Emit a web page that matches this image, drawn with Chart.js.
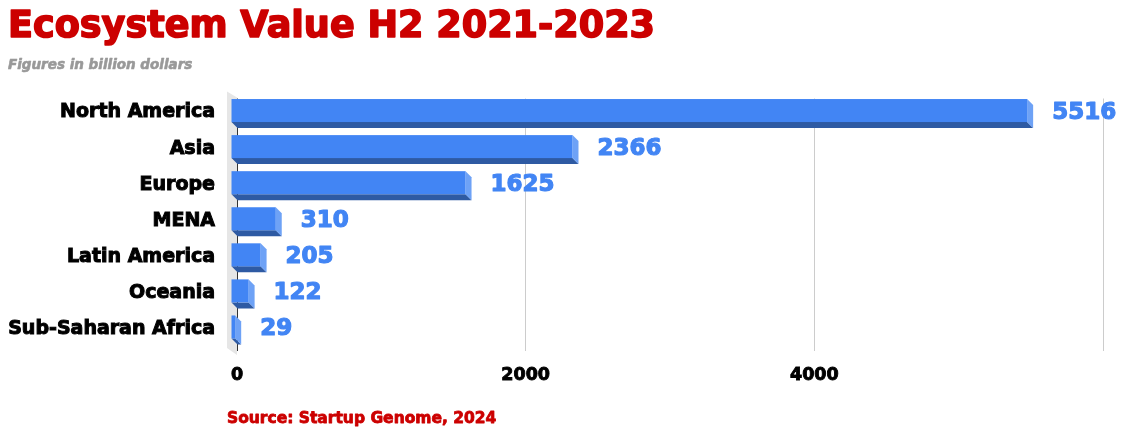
<!DOCTYPE html>
<html>
<head>
<meta charset="utf-8">
<script src="https://cdn.jsdelivr.net/npm/chart.js@4.4.1/dist/chart.umd.min.js"></script>
<style>
  html, body { margin: 0; padding: 0; background: #fff; }
  #wrap { width: 1127px; height: 434px; position: relative; }
</style>
</head>
<body>
<div id="wrap"><canvas id="chart"></canvas></div>
<script>
const regions = ['North America', 'Asia', 'Europe', 'MENA', 'Latin America', 'Oceania', 'Sub-Saharan Africa'];
const values = [5516, 2366, 1625, 310, 205, 122, 29];
const xMax = 6000;
const xStep = 2000;
const shownTicks = [0, 2000, 4000];

const titleText = 'Ecosystem Value H2 2021-2023';
const subtitleText = 'Figures in billion dollars';
const sourceText = 'Source: Startup Genome, 2024';

const DEPTH = 6;
const heavy = '"DejaVu Sans", sans-serif';

// fill + thin stroke so the text looks heavier
function heavyText(ctx, text, x, y, font, color, stroke) {
    ctx.font = font;
    ctx.fillStyle = color;
    ctx.strokeStyle = color;
    ctx.lineWidth = stroke;
    ctx.lineJoin = 'round';
    ctx.fillText(text, x, y);
    ctx.strokeText(text, x, y);
}

// pseudo 3D: draws a box for every bar using the element's position
const bars3d = {
    id: 'bars3d',
    beforeDraw(chart) {
        const a = chart.chartArea;
        const ctx = chart.ctx;
        ctx.save();
        // light grey side wall at the base
        ctx.fillStyle = '#e6e6e6';
        ctx.beginPath();
        ctx.moveTo(a.left - 10, a.top - 7);
        ctx.lineTo(a.left, a.top - 1);
        ctx.lineTo(a.left, a.bottom + 4);
        ctx.lineTo(a.left - 10, a.bottom - 3);
        ctx.closePath();
        ctx.fill();
        // title and subtitle
        ctx.textAlign = 'left';
        ctx.textBaseline = 'alphabetic';
        heavyText(ctx, titleText, 8, 37, 'bold 36.6px ' + heavy, '#cc0000', 1.6);
        heavyText(ctx, subtitleText, 8, 69, 'italic bold 13.5px ' + heavy, '#999999', 0.6);
        ctx.restore();
    },
    afterDatasetsDraw(chart) {
        const ctx = chart.ctx;
        const meta = chart.getDatasetMeta(0);
        ctx.save();
        meta.data.forEach((bar, i) => {
            const p = bar.getProps(['x', 'y', 'base', 'height'], true);
            const top = p.y - p.height / 2;
            const bottom = p.y + p.height / 2;
            const x0 = p.base, x1 = p.x, d = DEPTH;
            // bottom face
            ctx.fillStyle = '#2e5aa3';
            ctx.beginPath();
            ctx.moveTo(x0 - d, bottom - d);
            ctx.lineTo(x1 - d, bottom - d);
            ctx.lineTo(x1, bottom);
            ctx.lineTo(x0, bottom);
            ctx.closePath();
            ctx.fill();
            // right face
            ctx.fillStyle = '#6ea2f6';
            ctx.beginPath();
            ctx.moveTo(x1 - d, top - d);
            ctx.lineTo(x1, top);
            ctx.lineTo(x1, bottom);
            ctx.lineTo(x1 - d, bottom - d);
            ctx.closePath();
            ctx.fill();
            // front face
            ctx.fillStyle = '#4285f4';
            ctx.fillRect(x0 - d, top - d, x1 - x0, p.height);
            // value label
            ctx.textAlign = 'left';
            ctx.textBaseline = 'middle';
            heavyText(ctx, String(values[i]), x1 + 19, p.y - d + 2, 'bold 23px ' + heavy, '#4285f4', 1.2);
        });
        ctx.restore();
    },
    afterDraw(chart) {
        const ctx = chart.ctx;
        ctx.save();
        ctx.textAlign = 'left';
        ctx.textBaseline = 'alphabetic';
        heavyText(ctx, sourceText, 227, 423, 'bold 15.5px ' + heavy, '#cc0000', 0.8);
        ctx.restore();
    }
};

const ctx = document.getElementById('chart').getContext('2d');
const chart = new Chart(ctx, {
    type: 'bar',
    data: {
        labels: regions,
        datasets: [{
            data: values,
            backgroundColor: 'rgba(0,0,0,0)',
            borderWidth: 0,
            barThickness: 23
        }]
    },
    options: {
        indexAxis: 'y',
        responsive: true,
        maintainAspectRatio: false,
        animation: false,
        layout: { padding: { left: 8, right: 24, top: 98.5, bottom: 0 } },
        plugins: {
            legend: { display: false },
            tooltip: { enabled: false }
        },
        scales: {
            x: {
                min: 0,
                max: xMax,
                afterFit(scale) { scale.height = 83; },
                ticks: {
                    stepSize: xStep,
                    color: '#000',
                    font: { family: heavy, size: 17.5, weight: 'bold' },
                    textStrokeColor: '#000',
                    textStrokeWidth: 0.9,
                    padding: 14,
                    maxRotation: 0,
                    callback: (v) => shownTicks.includes(v) ? String(v) : ''
                },
                grid: {
                    drawTicks: false,
                    color: (c) => c.tick && c.tick.value === 0 ? '#333333' : '#cccccc'
                },
                border: { display: false }
            },
            y: {
                afterFit(scale) { scale.width = 229; },
                ticks: {
                    color: '#000',
                    font: { family: heavy, size: 19, weight: 'bold' },
                    textStrokeColor: '#000',
                    textStrokeWidth: 1,
                    padding: 22,
                    labelOffset: -4
                },
                grid: { display: false, drawTicks: false },
                border: { display: false }
            }
        }
    },
    plugins: [bars3d]
});
</script>
</body>
</html>
